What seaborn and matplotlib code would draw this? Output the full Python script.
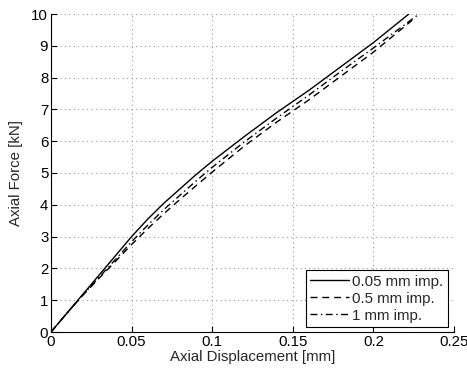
import matplotlib
matplotlib.use("Agg")
import matplotlib.pyplot as plt
import seaborn as sns
import pandas as pd

sns.set_style("ticks")
plt.rcParams['font.family'] = ['Liberation Sans', 'DejaVu Sans']

x_solid = [0, 0.01, 0.02, 0.03, 0.04, 0.05, 0.06, 0.07, 0.08, 0.09, 0.10, 0.12, 0.14, 0.16, 0.18, 0.20, 0.222]
y_solid = [0, 0.6, 1.2, 1.8, 2.4, 3.0, 3.55, 4.05, 4.5, 4.95, 5.37, 6.15, 6.9, 7.6, 8.35, 9.1, 10.0]

x_dash = [0, 0.01, 0.02, 0.03, 0.04, 0.05, 0.06, 0.07, 0.08, 0.09, 0.10, 0.12, 0.14, 0.16, 0.18, 0.20, 0.224]
y_dash = [0, 0.6, 1.17, 1.7, 2.22, 2.75, 3.25, 3.72, 4.17, 4.6, 5.03, 5.85, 6.6, 7.3, 8.05, 8.8, 9.8]

x_dd = [0, 0.01, 0.02, 0.03, 0.04, 0.05, 0.06, 0.07, 0.08, 0.09, 0.10, 0.12, 0.14, 0.16, 0.18, 0.20, 0.227]
y_dd = [0, 0.6, 1.18, 1.73, 2.28, 2.84, 3.36, 3.85, 4.3, 4.75, 5.18, 5.98, 6.73, 7.45, 8.2, 8.93, 9.95]

labels = ["0.05 mm imp.", "0.5 mm imp.", "1 mm imp."]
styles = ["-", (0, (5, 3.5)), (0, (5, 2.5, 1, 2.5))]

x_ticks = [0, 0.05, 0.1, 0.15, 0.2, 0.25]
x_ticklabels = ["0", "0.05", "0.1", "0.15", "0.2", "0.25"]
y_ticks = list(range(0, 11))

fig = plt.figure(figsize=(4.67, 3.71), dpi=100)
ax = fig.add_axes([51/467, 39/371, 403/467, 318/371])

for xs, ys, lab, ls in zip([x_solid, x_dash, x_dd], [y_solid, y_dash, y_dd], labels, styles):
    df = pd.DataFrame({"x": xs, "y": ys})
    sns.lineplot(data=df, x="x", y="y", ax=ax, color="black", linestyle=ls,
                 linewidth=1.0, label=lab, sort=False, estimator=None)

ax.set_xlim(0, 0.25)
ax.set_ylim(0, 10)
ax.set_xticks(x_ticks)
ax.set_xticklabels(x_ticklabels)
ax.set_yticks(y_ticks)
ax.grid(True, linestyle=(0, (1, 3)), color="#999999", linewidth=0.8)
ax.tick_params(direction="in", length=4, width=0.8, labelsize=10.8, colors="black", pad=2)
for s in ["top", "right"]:
    ax.spines[s].set_visible(False)
for s in ["left", "bottom"]:
    ax.spines[s].set_linewidth(0.8)
    ax.spines[s].set_color("black")
ax.set_xlabel("Axial Displacement [mm]", fontsize=10.8, labelpad=1)
ax.set_ylabel("Axial Force [kN]", fontsize=10.8, labelpad=6)

leg = ax.legend(loc="lower right", bbox_to_anchor=(0.985, 0.015), fontsize=10.8,
                frameon=True, fancybox=False, edgecolor="black", framealpha=1,
                handlelength=2.6, borderpad=0.3, labelspacing=0.2, handletextpad=0.2,
                borderaxespad=0)
leg.get_frame().set_linewidth(0.8)

fig.savefig("out.png", dpi=100)
